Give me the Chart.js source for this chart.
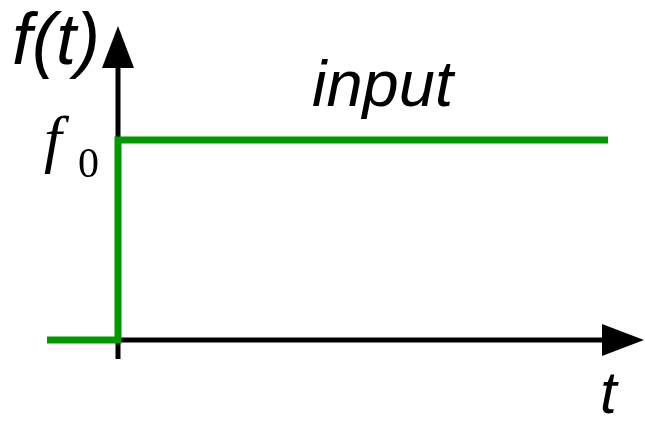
<!DOCTYPE html>
<html>
<head>
<meta charset="utf-8">
<script src="https://cdn.jsdelivr.net/npm/chart.js@4.4.0/dist/chart.umd.min.js"></script>
<style>
  html, body { margin: 0; padding: 0; background: #fff; }
  #wrap { width: 645px; height: 424px; position: relative; }
</style>
</head>
<body>
<div id="wrap"><canvas id="grafica"></canvas></div>
<script>
// step input: f(t) = 0 for t < 0, f0 for t >= 0
const stepT = [-0.71, 0, 0, 4.9];
const stepF = [0, 0, 1, 1];

// axes (end at the base of the arrow heads)
const ejeT_t = [0, 4.84];
const ejeT_f = [0, 0];
const ejeF_t = [0, 0];
const ejeF_f = [-0.095, 1.36];

const toPoints = (xs, ys) => xs.map((x, i) => ({ x: x, y: ys[i] }));

// arrow heads at the end of each axis dataset
const flechas = {
  id: "flechas",
  afterDatasetsDraw(chart) {
    const ctx = chart.ctx;
    [0, 1].forEach((idx) => {
      const pts = chart.getDatasetMeta(idx).data;
      const a = pts[pts.length - 2], b = pts[pts.length - 1];
      const ang = Math.atan2(b.y - a.y, b.x - a.x);
      const largo = 42, medio = 16;
      ctx.save();
      ctx.translate(b.x, b.y);
      ctx.rotate(ang);
      ctx.beginPath();
      ctx.moveTo(largo, 0);
      ctx.lineTo(0, -medio);
      ctx.lineTo(0, medio);
      ctx.closePath();
      ctx.fillStyle = "#000";
      ctx.fill();
      ctx.restore();
    });
  },
};

// axis names and labels
const textos = {
  id: "textos",
  afterDraw(chart) {
    const ctx = chart.ctx;
    const sy = chart.scales.y;
    ctx.save();
    ctx.fillStyle = "#000";
    ctx.textAlign = "left";
    ctx.textBaseline = "alphabetic";

    ctx.font = "italic 72px 'Liberation Sans', Arial, sans-serif";
    ctx.fillText("f(t)", 12, 64);

    ctx.font = "italic 65px 'Liberation Sans', Arial, sans-serif";
    ctx.fillText("input", 312, sy.getPixelForValue(1) - 34);

    ctx.font = "italic 60px 'Liberation Sans', Arial, sans-serif";
    ctx.fillText("t", 600, 413);

    // f0 level on the vertical axis
    const y0 = sy.getPixelForValue(1);
    ctx.font = "italic 64px 'Liberation Serif', 'Times New Roman', serif";
    ctx.fillText("f", 44, y0 + 20);
    ctx.font = "42px 'Liberation Serif', 'Times New Roman', serif";
    ctx.fillText("0", 78, y0 + 37);
    ctx.restore();
  },
};

new Chart(document.getElementById("grafica"), {
  type: "scatter",
  data: {
    datasets: [
      {
        label: "t",
        data: toPoints(ejeT_t, ejeT_f),
        showLine: true,
        borderColor: "#000",
        borderWidth: 5,
        pointRadius: 0,
        order: 3,
      },
      {
        label: "f(t)",
        data: toPoints(ejeF_t, ejeF_f),
        showLine: true,
        borderColor: "#000",
        borderWidth: 5,
        pointRadius: 0,
        order: 2,
      },
      {
        label: "input",
        data: toPoints(stepT, stepF),
        showLine: true,
        borderColor: "#009900",
        borderWidth: 7,
        borderJoinStyle: "miter",
        pointRadius: 0,
        order: 1,
      },
    ],
  },
  options: {
    responsive: true,
    maintainAspectRatio: false,
    animation: false,
    layout: { padding: 0 },
    plugins: {
      legend: { display: false },
      tooltip: { enabled: false },
    },
    scales: {
      x: { type: "linear", display: false, min: -1.18, max: 5.27 },
      y: { type: "linear", display: false, min: -0.42, max: 1.7 },
    },
  },
  plugins: [flechas, textos],
});
</script>
</body>
</html>
